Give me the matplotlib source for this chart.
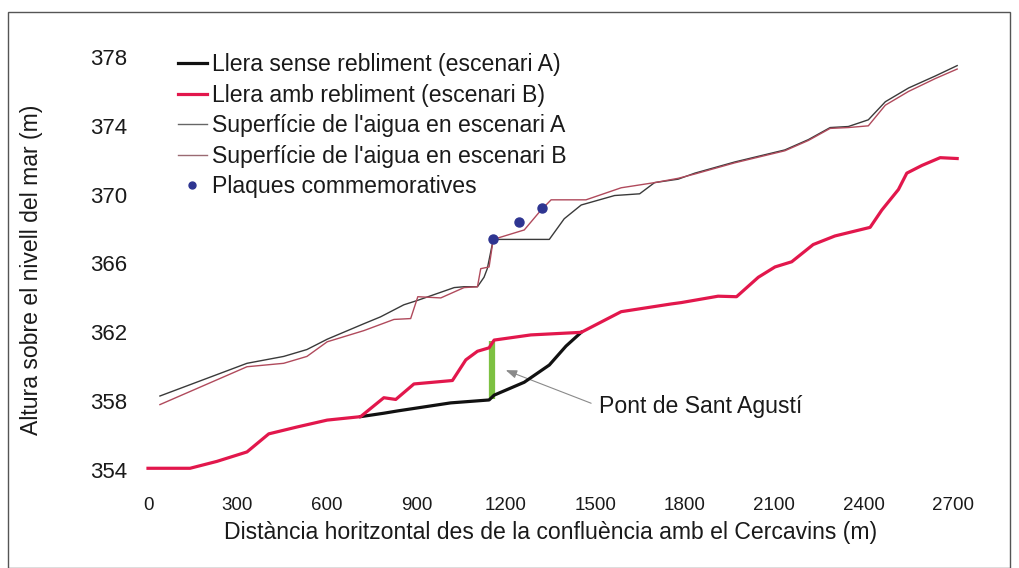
import matplotlib
matplotlib.use("Agg")
import matplotlib.pyplot as plt
from matplotlib.lines import Line2D
from matplotlib.patches import Rectangle

# ---------------- data ----------------
bed_a_x = [713, 791, 836, 1015, 1144, 1161, 1262, 1346, 1402, 1453]
bed_a_y = [357.1, 357.3, 357.43, 357.9, 358.07, 358.35, 359.1, 360.1, 361.2, 362.0]

bed_b_x = [0, 141, 231, 332, 405, 500, 601, 713, 791, 831, 892, 1021, 1066, 1105,
           1144, 1161, 1284, 1453, 1587, 1755, 1789, 1912, 1974, 2047, 2103, 2159,
           2231, 2304, 2422, 2461, 2517, 2545, 2596, 2657, 2714]
bed_b_y = [354.1, 354.1, 354.5, 355.05, 356.1, 356.5, 356.9, 357.1, 358.2, 358.1,
           359.0, 359.2, 360.4, 360.9, 361.1, 361.55, 361.85, 362.0, 363.2, 363.65,
           363.73, 364.1, 364.07, 365.2, 365.8, 366.1, 367.1, 367.6, 368.1, 369.1,
           370.3, 371.25, 371.7, 372.15, 372.1]

water_a_x = [40, 332, 455, 533, 601, 724, 780, 858, 903, 1027, 1060, 1105, 1127,
             1138, 1158, 1346, 1396, 1453, 1565, 1649, 1699, 1778, 1834, 1968, 2136,
             2215, 2288, 2349, 2416, 2473, 2551, 2641, 2714]
water_a_y = [358.3, 360.2, 360.6, 361.0, 361.6, 362.5, 362.9, 363.6, 363.85, 364.6,
             364.65, 364.65, 365.2, 365.7, 367.4, 367.4, 368.6, 369.4, 369.95, 370.05,
             370.7, 370.9, 371.25, 371.9, 372.6, 373.2, 373.9, 373.96, 374.35, 375.4,
             376.2, 376.9, 377.5]

water_b_x = [40, 332, 455, 533, 601, 724, 825, 881, 905, 982, 1060, 1105, 1116, 1144,
             1158, 1262, 1318, 1352, 1469, 1587, 1699, 1778, 1834, 1968, 2136, 2215,
             2288, 2349, 2416, 2473, 2551, 2641, 2714]
water_b_y = [357.8, 360.0, 360.2, 360.6, 361.45, 362.1, 362.75, 362.8, 364.07, 364.0,
             364.6, 364.65, 365.7, 365.8, 367.4, 367.95, 369.1, 369.7, 369.7, 370.4,
             370.7, 370.95, 371.2, 371.85, 372.55, 373.15, 373.85, 373.9, 374.0, 375.2,
             376.0, 376.75, 377.3]

plaques_x = [1158, 1245, 1320]
plaques_y = [367.4, 368.4, 369.2]

bridge_x = 1153
bridge_bottom = 358.1
bridge_top = 361.5

xticks = [0, 300, 600, 900, 1200, 1500, 1800, 2100, 2400, 2700]
yticks = [354, 358, 362, 366, 370, 374, 378]

labels = ["Llera sense rebliment (escenari A)",
          "Llera amb rebliment (escenari B)",
          "Superfície de l'aigua en escenari A",
          "Superfície de l'aigua en escenari B",
          "Plaques commemoratives"]

# ---------------- figure ----------------
W, H = 1019, 568
fig = plt.figure(figsize=(W / 100, H / 100), dpi=100)
fig.patch.set_facecolor("white")

FONT = ["Liberation Sans", "DejaVu Sans"]
TXT = "#1a1a1a"
FS = 16.6

xlim = (-20, 2760)
ylim = (353.0, 379.0)
# pixel mapping: x=0 -> 148, 2700 -> 953 ; y=354 -> 470, 378 -> 57
pxm = (953 - 148) / 2700.0
pym = (470 - 57) / 24.0
left = 148 + (xlim[0]) * pxm
right = 148 + (xlim[1]) * pxm
bottom = 470 + (354 - ylim[0]) * pym
top = 470 - (ylim[1] - 354) * pym
ax = fig.add_axes([left / W, 1 - bottom / H, (right - left) / W, (bottom - top) / H])
ax.set_xlim(*xlim)
ax.set_ylim(*ylim)
for s in ax.spines.values():
    s.set_visible(False)
ax.set_facecolor("none")

c_bedA = "#111111"
c_bedB = "#E2174C"
c_watA = "#3a3a3a"
c_watB = "#b04a5c"
c_plq = "#2E3591"
c_green = "#7DC142"

ax.plot([bridge_x, bridge_x], [bridge_bottom, bridge_top], color=c_green, lw=4.5,
        solid_capstyle="butt", zorder=2)
ax.plot(water_a_x, water_a_y, color=c_watA, lw=1.0, zorder=3)
ax.plot(water_b_x, water_b_y, color=c_watB, lw=1.0, zorder=3)
ax.plot(bed_a_x, bed_a_y, color=c_bedA, lw=2.3, zorder=4)
ax.plot(bed_b_x, bed_b_y, color=c_bedB, lw=2.3, zorder=5, clip_on=False)
ax.plot(plaques_x, plaques_y, "o", color=c_plq, ms=6.5, zorder=6)

ax.set_xticks(xticks)
ax.set_yticks(yticks)
ax.tick_params(length=0)
ax.tick_params(axis="x", pad=7)
ax.tick_params(axis="y", pad=11)
for t in ax.get_xticklabels():
    t.set_fontfamily(FONT)
    t.set_fontsize(13.5)
    t.set_color(TXT)
for t in ax.get_yticklabels():
    t.set_fontfamily(FONT)
    t.set_fontsize(16)
    t.set_color(TXT)

fig.text(551 / W, 1 - 533 / H, "Distància horitzontal des de la confluència amb el Cercavins (m)",
         ha="center", va="center", fontsize=FS, family=FONT, color=TXT)
fig.text(32 / W, 1 - 270 / H, "Altura sobre el nivell del mar (m)", rotation=90,
         ha="center", va="center", fontsize=FS, family=FONT, color=TXT)

ax.annotate("Pont de Sant Agustí", xy=(1200, 359.8), xytext=(1513, 357.7),
            ha="left", va="center", fontsize=FS, family=FONT, color=TXT,
            arrowprops=dict(arrowstyle="-|>,head_length=0.4,head_width=0.15",
                            color="#8a8a8a", lw=0.8, shrinkA=4, shrinkB=0,
                            relpos=(0, 0.5)))

handles = [Line2D([], [], color=c_bedA, lw=2.3),
           Line2D([], [], color=c_bedB, lw=2.3),
           Line2D([], [], color="#666666", lw=1.0),
           Line2D([], [], color="#9a6a72", lw=1.0),
           Line2D([], [], color=c_plq, marker="o", ls="none", ms=5)]
leg = fig.legend(handles, labels, loc="upper left",
                 bbox_to_anchor=(178 / W, 1 - 53 / H), frameon=False,
                 prop={"family": FONT, "size": FS}, handlelength=1.25,
                 handletextpad=0.22, labelspacing=0.33, borderaxespad=0,
                 borderpad=0)
for t in leg.get_texts():
    t.set_color(TXT)

fig.add_artist(Rectangle((8 / W, 0), (1010 - 8) / W, 1 - 12 / H,
                         transform=fig.transFigure, fill=False,
                         edgecolor="#555555", lw=1.0))

fig.savefig("out.png", dpi=100, facecolor="white")
